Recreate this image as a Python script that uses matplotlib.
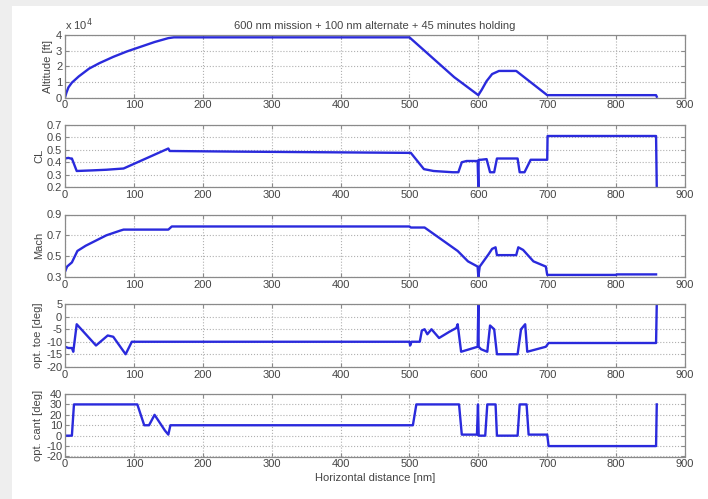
import matplotlib
matplotlib.use("Agg")
import matplotlib.pyplot as plt
from matplotlib.patches import Rectangle
from matplotlib.ticker import FuncFormatter

plt.rcParams['font.family'] = ['Liberation Sans Narrow', 'Liberation Sans', 'DejaVu Sans']
plt.rcParams['axes.unicode_minus'] = False

# ---------------- data ----------------
alt_x = [0, 2, 5, 10, 20, 35, 50, 70, 90, 110, 130, 150, 158, 500, 565, 600,
         605, 612, 620, 630, 655, 700, 858, 859]
alt_y = [0, 3000, 6500, 9500, 13500, 18500, 22000, 26000, 29500, 32500, 35500, 38000, 38500,
         38500, 13000, 1500, 5000, 10500, 15000, 17000, 17000, 1500, 1500, 500]

cl_x = [0, 5, 8, 10, 17, 40, 60, 85, 150, 152, 250, 500, 502, 521, 535, 563, 571, 576, 583,
        599, 600, 600.5, 604, 612, 617, 623, 627, 657, 660, 667, 676, 700, 700.5, 858, 859]
cl_y = [0.43, 0.435, 0.43, 0.43, 0.33, 0.335, 0.34, 0.35, 0.51, 0.49, 0.485, 0.475, 0.475,
        0.345, 0.33, 0.32, 0.32, 0.40, 0.41, 0.41, 0.2, 0.42, 0.42, 0.425, 0.32, 0.32, 0.43,
        0.43, 0.32, 0.32, 0.42, 0.42, 0.61, 0.61, 0.2]

mach_x = [0, 3, 10, 18, 30, 45, 60, 80, 85, 150, 155, 500, 502, 522, 570, 585, 599, 600,
          602, 615, 620, 625, 627, 655, 658, 665, 680, 698, 700, 800, 801, 858]
mach_y = [0.35, 0.40, 0.44, 0.55, 0.60, 0.65, 0.70, 0.745, 0.755, 0.755, 0.785, 0.785, 0.775,
          0.775, 0.55, 0.45, 0.40, 0.30, 0.40, 0.52, 0.57, 0.585, 0.51, 0.51, 0.585, 0.56,
          0.45, 0.40, 0.32, 0.32, 0.325, 0.325]

toe_x = [0, 5, 10, 12, 17, 45, 62, 70, 88, 97, 500, 501, 503, 515, 518, 522, 526, 532, 543,
         558, 568, 570, 575, 599, 600, 600.5, 604, 613, 617, 623, 627, 657, 662, 668, 671,
         698, 702, 858, 859]
toe_y = [-12, -12.5, -12.5, -14, -3, -11.5, -7.5, -8, -15, -10, -10, -11.5, -10, -10, -5.5,
         -5, -7, -5, -8.5, -6, -4.5, -3, -14, -12, 5, -12, -13, -14, -3.5, -5, -15, -15, -5,
         -3, -14, -12, -10.5, -10.5, 5]

cant_x = [0, 10, 13, 105, 115, 122, 130, 145, 150, 153, 505, 510, 572, 576, 598, 599.5,
          600.5, 610, 613, 625, 627, 657, 660, 670, 673, 700, 702, 858, 859]
cant_y = [0, 0, 30, 30, 10, 10, 20, 5, 1, 10, 10, 30, 30, 1, 1, 30, 0, 0, 30, 30, 0, 0, 30,
          30, 1, 1, -10, -10, 30]

ylabels = ["Altitude [ft]", "CL", "Mach", "opt. toe [deg]", "opt. cant [deg]"]
ylims = [(0, 40000), (0.2, 0.7), (0.3, 0.9), (-20, 5), (-20, 40)]
yticks = [[0, 10000, 20000, 30000, 40000],
          [0.2, 0.3, 0.4, 0.5, 0.6, 0.7],
          [0.3, 0.5, 0.7, 0.9],
          [-20, -15, -10, -5, 0, 5],
          [-20, -10, 0, 10, 20, 30, 40]]
xticks = [0, 100, 200, 300, 400, 500, 600, 700, 800, 900]
title = "600 nm mission + 100 nm alternate + 45 minutes holding"
xlabel = "Horizontal distance [nm]"

series = [(alt_x, alt_y), (cl_x, cl_y), (mach_x, mach_y), (toe_x, toe_y), (cant_x, cant_y)]

# ---------------- figure ----------------
W, H = 708, 499
fig = plt.figure(figsize=(W / 100, H / 100), dpi=100)
fig.patch.set_facecolor('#eeeeee')
bg = Rectangle((12 / W, 0), 1 - 12 / W, 1 - 6 / H, transform=fig.transFigure,
               facecolor='white', edgecolor='none', zorder=-10)
fig.add_artist(bg)

left, right = 65, 685
line_c = '#2a2adc'
txt_c = '#444444'
frame_c = '#8a8a8a'

for i, ((xs, ys), lab, yl, yt) in enumerate(zip(series, ylabels, ylims, yticks)):
    top = 35 + i * 89.75
    ax = fig.add_axes([left / W, 1 - (top + 62.5) / H, (right - left) / W, 62.5 / H])
    ax.set_zorder(1)
    ax.plot(xs, ys, color=line_c, lw=1.7, solid_joinstyle='round', clip_on=True)
    ax.set_xlim(0, 900)
    ax.set_ylim(*yl)
    ax.set_xticks(xticks)
    ax.set_yticks(yt)
    ax.grid(True, linestyle=':', color='#b0b0b0', lw=0.8)
    ax.tick_params(direction='in', length=3, top=True, right=True, labelsize=8,
                   colors=frame_c, labelcolor=txt_c, pad=2)
    for s in ax.spines.values():
        s.set_color(frame_c)
        s.set_linewidth(0.9)
    ax.set_ylabel(lab, fontsize=8, color=txt_c, labelpad=2)
    if i == 0:
        ax.yaxis.set_major_formatter(FuncFormatter(lambda v, p: f"{v / 1e4:g}"))
        ax.text(0, 1.04, r"x 10$^4$", transform=ax.transAxes, fontsize=8, color=txt_c,
                ha='left', va='bottom')
        ax.set_title(title, fontsize=8, color=txt_c, pad=4)
    if i == 4:
        ax.set_xlabel(xlabel, fontsize=8, color=txt_c, labelpad=3)
    if i == 2:
        ax.yaxis.set_major_formatter(FuncFormatter(lambda v, p: f"{v:.1f}"))

fig.savefig("out.png", dpi=100, facecolor=fig.get_facecolor())
